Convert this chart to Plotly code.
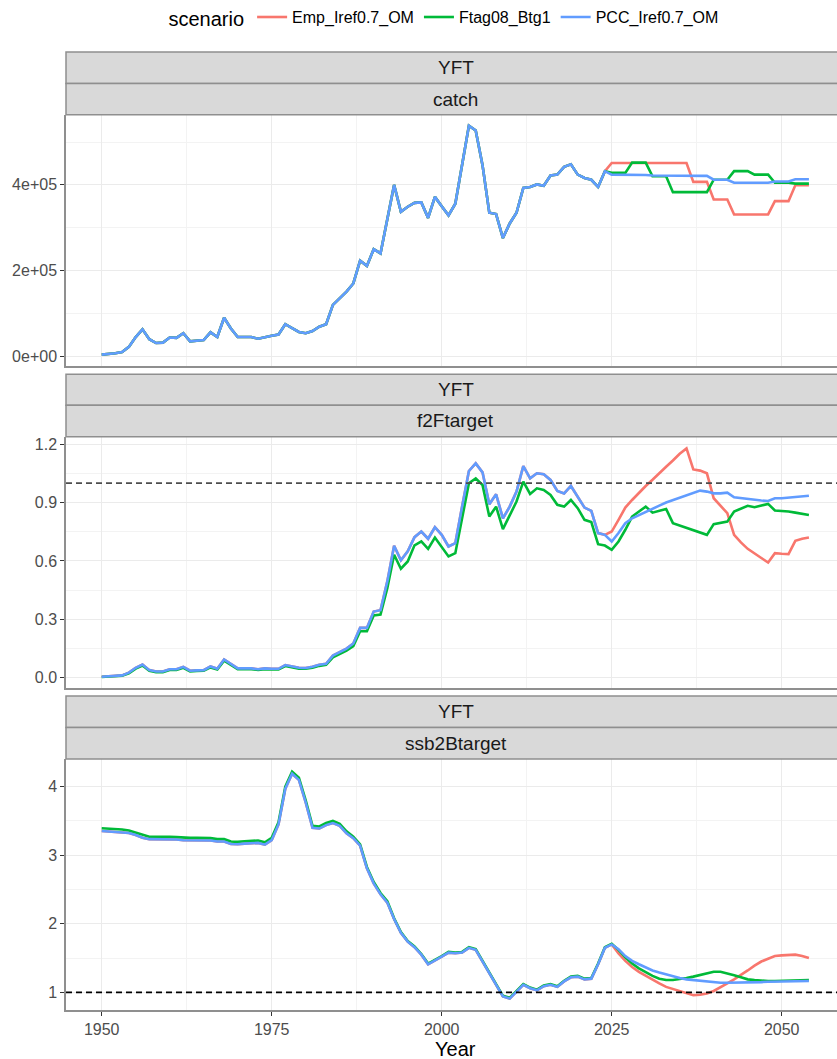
import plotly.graph_objects as go
from plotly.subplots import make_subplots

# ---------------- data ----------------
years = list(range(1950, 2055))
scenarios = ["Emp_Iref0.7_OM", "Ftag08_Btg1", "PCC_Iref0.7_OM"]
colors = ["#F8766D", "#00BA38", "#619CFF"]

# catch: history common to all scenarios (1950-2024)
catch_hist = [3900, 4700, 7000, 10000, 22000, 45000, 63000, 40000, 31000, 32000,
              44000, 43000, 54000, 35000, 37000, 38000, 56000, 45000, 90000, 65000,
              45000, 45000, 45000, 41000, 45000, 48000, 51000, 75000, 66000, 57000,
              54000, 59000, 69000, 75000, 120000, 135000, 151000, 170000, 223000, 211000,
              250000, 240000, 318000, 400000, 337000, 349000, 358000, 359000, 323000, 372000,
              350000, 329000, 356000, 450000, 538000, 527000, 446000, 335000, 332000, 276000,
              310000, 335000, 393000, 395000, 401000, 398000, 422000, 424000, 442000, 448000,
              424000, 416000, 412000, 395000, 432000]
# catch projections 2025-2054
catch_emp = [451000]*12 + [407000]*3 + [366000]*3 + [331000]*6 + [362000]*3 + [399000]*3
catch_ftag = [428000]*3 + [452000]*3 + [420000]*3 + [383000]*6 + [412000]*3 + [432000]*3 + \
             [424000]*3 + [405000]*3 + [403000]*3
catch_pcc = [424000]*3 + [423000]*3 + [422000]*3 + [421000]*6 + [412000]*3 + [405000]*6 + \
            [408000]*3 + [413000]*3

# F / Ftarget history (1950-2024)
f_hist_om = [0.005, 0.007, 0.008, 0.012, 0.026, 0.051, 0.068, 0.039, 0.032, 0.032,
             0.044, 0.044, 0.056, 0.036, 0.038, 0.039, 0.058, 0.046, 0.094, 0.072,
             0.048, 0.048, 0.048, 0.044, 0.048, 0.046, 0.046, 0.065, 0.056, 0.051,
             0.050, 0.056, 0.067, 0.072, 0.114, 0.130, 0.150, 0.176, 0.256, 0.256,
             0.340, 0.347, 0.495, 0.678, 0.603, 0.649, 0.722, 0.751, 0.714, 0.773,
             0.734, 0.674, 0.691, 0.880, 1.062, 1.101, 1.055, 0.891, 0.942, 0.819,
             0.879, 0.956, 1.087, 1.024, 1.050, 1.045, 1.016, 0.959, 0.947, 0.985,
             0.930, 0.874, 0.857, 0.743, 0.734]
f_hist_ftag = [0.004, 0.005, 0.006, 0.010, 0.023, 0.047, 0.063, 0.036, 0.029, 0.029,
               0.040, 0.040, 0.051, 0.033, 0.035, 0.036, 0.053, 0.042, 0.088, 0.067,
               0.044, 0.044, 0.044, 0.040, 0.044, 0.042, 0.042, 0.060, 0.052, 0.047,
               0.046, 0.051, 0.061, 0.066, 0.105, 0.120, 0.139, 0.162, 0.239, 0.239,
               0.320, 0.324, 0.460, 0.632, 0.560, 0.597, 0.680, 0.700, 0.662, 0.720,
               0.674, 0.623, 0.640, 0.820, 0.999, 1.024, 0.990, 0.828, 0.879, 0.763,
               0.836, 0.905, 1.007, 0.944, 0.973, 0.964, 0.939, 0.888, 0.879, 0.913,
               0.871, 0.811, 0.800, 0.686, 0.679]
f_emp = [0.751, 0.811, 0.874, 0.913, 0.951, 0.985, 1.017, 1.052, 1.084, 1.116,
         1.150, 1.178, 1.070, 1.064, 1.050, 0.922, 0.884, 0.845, 0.734, 0.695,
         0.662, 0.637, 0.615, 0.592, 0.640, 0.637, 0.635, 0.703, 0.714, 0.720]
f_ftag = [0.657, 0.700, 0.760, 0.828, 0.854, 0.879, 0.848, 0.859, 0.867, 0.794,
          0.782, 0.768, 0.756, 0.746, 0.734, 0.789, 0.794, 0.802, 0.854, 0.867,
          0.883, 0.876, 0.884, 0.893, 0.859, 0.857, 0.854, 0.848, 0.843, 0.836]
f_pcc = [0.700, 0.743, 0.794, 0.819, 0.836, 0.854, 0.867, 0.884, 0.900, 0.913,
         0.925, 0.939, 0.951, 0.961, 0.956, 0.947, 0.947, 0.951, 0.927, 0.922,
         0.917, 0.913, 0.910, 0.908, 0.922, 0.922, 0.925, 0.930, 0.934, 0.935]

# SSB / Btarget history (1950-2024)
b_hist_om = [3.355, 3.350, 3.345, 3.340, 3.325, 3.295, 3.255, 3.235, 3.235, 3.240,
             3.235, 3.230, 3.220, 3.220, 3.220, 3.220, 3.215, 3.200, 3.200, 3.165,
             3.160, 3.170, 3.175, 3.180, 3.155, 3.220, 3.450, 3.970, 4.190, 4.100,
             3.770, 3.400, 3.390, 3.440, 3.470, 3.430, 3.320, 3.250, 3.140, 2.810,
             2.590, 2.430, 2.310, 2.070, 1.870, 1.740, 1.660, 1.550, 1.410, 1.460,
             1.520, 1.580, 1.570, 1.580, 1.650, 1.620, 1.450, 1.290, 1.120, 0.940,
             0.910, 1.010, 1.110, 1.060, 1.030, 1.090, 1.110, 1.080, 1.160, 1.220,
             1.230, 1.190, 1.200, 1.410, 1.650]
b_hist_ftag = [3.395, 3.390, 3.385, 3.375, 3.360, 3.330, 3.290, 3.270, 3.270, 3.275,
               3.270, 3.265, 3.254, 3.254, 3.254, 3.254, 3.250, 3.235, 3.235, 3.200,
               3.196, 3.205, 3.210, 3.215, 3.190, 3.254, 3.480, 4.000, 4.220, 4.130,
               3.800, 3.430, 3.420, 3.470, 3.500, 3.460, 3.350, 3.270, 3.160, 2.830,
               2.610, 2.450, 2.330, 2.080, 1.880, 1.750, 1.670, 1.560, 1.420, 1.470,
               1.530, 1.590, 1.580, 1.590, 1.660, 1.630, 1.460, 1.300, 1.130, 0.950,
               0.920, 1.020, 1.120, 1.070, 1.040, 1.100, 1.120, 1.090, 1.170, 1.230,
               1.240, 1.200, 1.210, 1.420, 1.660]
b_emp = [1.70, 1.57, 1.46, 1.37, 1.30, 1.24, 1.18, 1.13, 1.08, 1.05,
         1.01, 0.98, 0.96, 0.965, 0.985, 1.02, 1.07, 1.13, 1.19, 1.25,
         1.32, 1.39, 1.45, 1.49, 1.53, 1.54, 1.55, 1.55, 1.53, 1.50]
b_ftag = [1.71, 1.62, 1.51, 1.42, 1.35, 1.29, 1.24, 1.20, 1.18, 1.18,
          1.19, 1.21, 1.23, 1.25, 1.28, 1.30, 1.30, 1.28, 1.25, 1.22,
          1.19, 1.18, 1.17, 1.165, 1.165, 1.17, 1.17, 1.175, 1.18, 1.18]
b_pcc = [1.70, 1.63, 1.53, 1.46, 1.41, 1.36, 1.32, 1.29, 1.26, 1.24,
         1.21, 1.19, 1.18, 1.165, 1.155, 1.145, 1.14, 1.14, 1.14, 1.145,
         1.145, 1.15, 1.15, 1.155, 1.155, 1.16, 1.16, 1.16, 1.165, 1.165]

panel_names = ["catch", "f2Ftarget", "ssb2Btarget"]
series = {
    "catch": [catch_hist + catch_emp, catch_hist + catch_ftag, catch_hist + catch_pcc],
    "f2Ftarget": [f_hist_om + f_emp, f_hist_ftag + f_ftag, f_hist_om + f_pcc],
    "ssb2Btarget": [b_hist_om + b_emp, b_hist_ftag + b_ftag, b_hist_om + b_pcc],
}

# ---------------- figure ----------------
W, H = 837, 1059
ML, MT, MB = 66, 49, 49
PH = H - MT - MB
def fy(py):
    return (H - MB - py) / PH

fig = make_subplots(rows=3, cols=1)
for r, pname in enumerate(panel_names, start=1):
    for i, s in enumerate(scenarios):
        fig.add_trace(go.Scatter(
            x=years, y=series[pname][i], mode="lines", name=s,
            line=dict(color=colors[i], width=2.6),
            legendgroup=s, showlegend=(r == 1)), row=r, col=1)

font_fam = "Liberation Sans, Arial, sans-serif"
panel_px = [(112, 364), (435, 686.7), (758.3, 1010)]
strip_px = [(49, 80.7, 112), (372.3, 403.3, 435), (695, 726.7, 758.3)]
yranges = [[-22600, 563500], [-0.0512, 1.2376], [0.743, 4.403]]

grid = "#EBEBEB"
border = "#8f8f8f"
xcommon = dict(range=[1944.75, 2058.13], tickmode="linear", tick0=1950, dtick=25,
               showgrid=True, gridcolor=grid, gridwidth=1.2, zeroline=False,
               showline=True, linecolor=border, linewidth=1.5,
               minor=dict(tick0=1950, dtick=12.5, showgrid=True, gridcolor="#F3F3F3", gridwidth=0.8),
               tickfont=dict(family=font_fam, size=16, color="#4D4D4D"))
for r in range(1, 4):
    xa = dict(xcommon)
    xa["domain"] = [0, 1]
    if r < 3:
        xa.update(showticklabels=False, ticks="")
    else:
        xa.update(ticks="outside", ticklen=4, tickcolor="#333333", tickwidth=1)
    fig.update_xaxes(xa, row=r, col=1)

ycommon = dict(showgrid=True, gridcolor=grid, gridwidth=1.2, zeroline=False,
               showline=True, linecolor=border, linewidth=1.5,
               ticks="outside", ticklen=4, tickcolor="#333333", tickwidth=1,
               tickfont=dict(family=font_fam, size=16, color="#4D4D4D"))
ytick_specs = [
    dict(tickmode="array", tickvals=[0, 200000, 400000], ticktext=["0e+00", "2e+05", "4e+05"],
         minor=dict(tickmode="linear", tick0=0, dtick=100000, showgrid=True, gridcolor="#F3F3F3", gridwidth=0.8)),
    dict(tickmode="linear", tick0=0, dtick=0.3, tickformat=".1f",
         minor=dict(tickmode="linear", tick0=0, dtick=0.15, showgrid=True, gridcolor="#F3F3F3", gridwidth=0.8)),
    dict(tickmode="linear", tick0=0, dtick=1, tickformat="d",
         minor=dict(tickmode="linear", tick0=0, dtick=0.5, showgrid=True, gridcolor="#F3F3F3", gridwidth=0.8)),
]
for r in range(1, 4):
    ya = dict(ycommon)
    ya.update(ytick_specs[r - 1])
    top, bot = panel_px[r - 1]
    ya["domain"] = [fy(bot), fy(top)]
    ya["range"] = yranges[r - 1]
    fig.update_yaxes(ya, row=r, col=1)

shapes = []
annotations = []
for r in range(3):
    t0, t1, t2 = strip_px[r]
    for (a, b, label) in [(t0, t1, "YFT"), (t1, t2, panel_names[r])]:
        shapes.append(dict(type="rect", xref="paper", yref="paper",
                           x0=0, x1=1.02, y0=fy(b), y1=fy(a),
                           fillcolor="#D9D9D9", line=dict(color=border, width=1.5), layer="above"))
        annotations.append(dict(text=label, xref="paper", yref="paper",
                                x=(455.5 - ML) / (W - ML), y=(fy(a) + fy(b)) / 2,
                                showarrow=False, xanchor="center", yanchor="middle",
                                font=dict(family=font_fam, size=19, color="#1A1A1A")))

# reference lines at 1 for the ratio panels
shapes.append(dict(type="line", xref="paper", yref="y2", x0=0, x1=1, y0=1, y1=1,
                   line=dict(color="#4D4D4D", width=1.8, dash="6px,4px"), layer="above"))
shapes.append(dict(type="line", xref="paper", yref="y3", x0=0, x1=1, y0=1, y1=1,
                   line=dict(color="#000000", width=1.8, dash="6px,4px"), layer="above"))

annotations.append(dict(text="Year", xref="paper", yref="paper",
                        x=(455.5 - ML) / (W - ML), y=fy(1049), showarrow=False,
                        xanchor="center", yanchor="middle",
                        font=dict(family=font_fam, size=20, color="#000000")))

fig.update_layout(
    width=W, height=H,
    margin=dict(l=ML, r=0, t=MT, b=MB),
    paper_bgcolor="white", plot_bgcolor="white",
    shapes=shapes, annotations=annotations,
    font=dict(family=font_fam),
    showlegend=True,
    legend=dict(orientation="h", x=(445 - ML) / (W - ML), xanchor="center",
                y=fy(15), yanchor="middle",
                title=dict(text="scenario", font=dict(family=font_fam, size=20, color="#000000")),
                font=dict(family=font_fam, size=16, color="#000000"),
                itemwidth=30, tracegroupgap=0),
)

fig.write_html("out.html", config={"displayModeBar": False},
               post_script="document.body.style.margin='0';")
